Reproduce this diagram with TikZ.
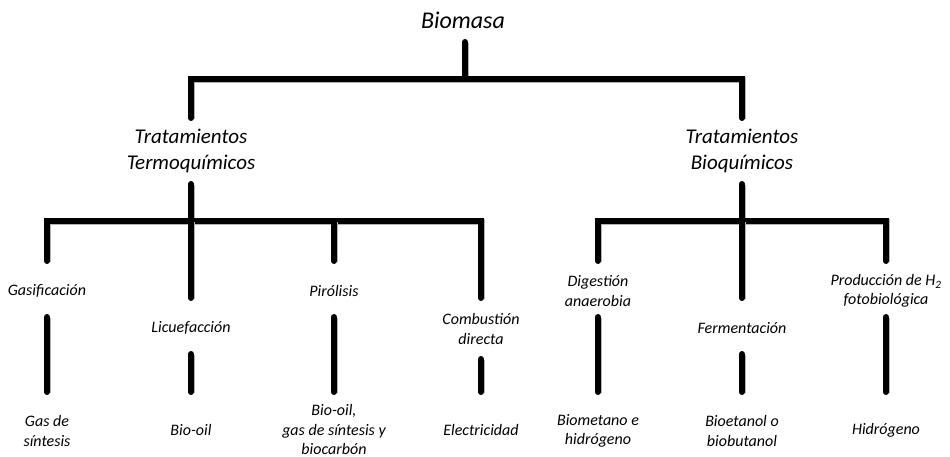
\documentclass[tikz,border=0pt]{standalone}
\usepackage{fontspec}
\setmainfont{Carlito}
\usetikzlibrary{calc}
\begin{document}
\begin{tikzpicture}[x=1pt,y=-1pt,
  bar/.style={line width=6pt,line cap=round,line join=miter,black,
    preaction={draw=black!30,line width=6pt,transform canvas={shift={(1.3pt,-1.3pt)}}}},
  lbl/.style={inner sep=0pt,align=center,font=\fontsize{16}{19.5}\selectfont\itshape},
  midl/.style={inner sep=0pt,align=center,font=\fontsize{21}{26}\selectfont\itshape},
  topl/.style={inner sep=0pt,align=center,font=\fontsize{24}{29}\selectfont\itshape}]
\useasboundingbox (0,0) rectangle (950,457);
% labels
\node[topl] (bio) at (463,20) {Biomasa};
\node[midl] (t1) at (191,151) {Tratamientos\\Termoquímicos};
\node[midl] (t2) at (742,151) {Tratamientos\\Bioquímicos};
\node[lbl] (gas) at (47,291) {Gasificación};
\node[lbl] (lic) at (191,328) {Licuefacción};
\node[lbl] (pir) at (334,291) {Pirólisis};
\node[lbl] (com) at (481,329) {Combustión\\directa};
\node[lbl] (dig) at (598,291) {Digestión\\anaerobia};
\node[lbl] (fer) at (742,328) {Fermentación};
\node[lbl] (pro) at (886,291) {Producción de H\textsubscript{2}\\fotobiológica};
\node[lbl] (o1) at (47,431) {Gas de\\síntesis};
\node[lbl] (o2) at (191,430) {Bio-oil};
\node[lbl] (o3) at (334,429.5) {Bio-oil,\\gas de síntesis y\\biocarbón};
\node[lbl] (o4) at (481,430) {Electricidad};
\node[lbl] (o5) at (598,431) {Biometano e\\hidrógeno};
\node[lbl] (o6) at (742,431) {Bioetanol o\\biobutanol};
\node[lbl] (o7) at (886,430) {Hidrógeno};
% top level
\coordinate (j0) at ($(bio)+(2,59)$);
\draw[bar] ($(bio)+(2,22)$) -- (j0);
\draw[bar] ($(t1)+(0,-33)$) |- (j0) -| ($(t2)+(0,-33)$);
% termoquimicos
\coordinate (j1) at ($(t1)+(0,70)$);
\draw[bar] ($(t1)+(0,33)$) -- (j1);
\draw[bar] ($(gas)+(0,-30)$) |- (j1) -| ($(com)+(0,-31)$);
\draw[bar] (j1) -- ($(lic)+(0,-30)$);
\draw[bar] ($(pir)+(0,-30)$) -- ($(pir |- j1)$);
% bioquimicos
\coordinate (j2) at ($(t2)+(0,70)$);
\draw[bar] ($(t2)+(0,33)$) -- (j2);
\draw[bar] ($(dig)+(0,-30)$) |- (j2) -| ($(pro)+(0,-30)$);
\draw[bar] (j2) -- ($(fer)+(0,-30)$);
% process to product
\draw[bar] ($(gas)+(0,26)$) -- ($(o1)+(0,-39)$);
\draw[bar] ($(lic)+(0,26)$) -- ($(o2)+(0,-38)$);
\draw[bar] ($(pir)+(0,26)$) -- ($(o3)+(0,-37.5)$);
\draw[bar] ($(com)+(0,30)$) -- ($(o4)+(0,-38)$);
\draw[bar] ($(dig)+(0,26)$) -- ($(o5)+(0,-39)$);
\draw[bar] ($(fer)+(0,26)$) -- ($(o6)+(0,-39)$);
\draw[bar] ($(pro)+(0,26)$) -- ($(o7)+(0,-38)$);
\end{tikzpicture}
\end{document}
